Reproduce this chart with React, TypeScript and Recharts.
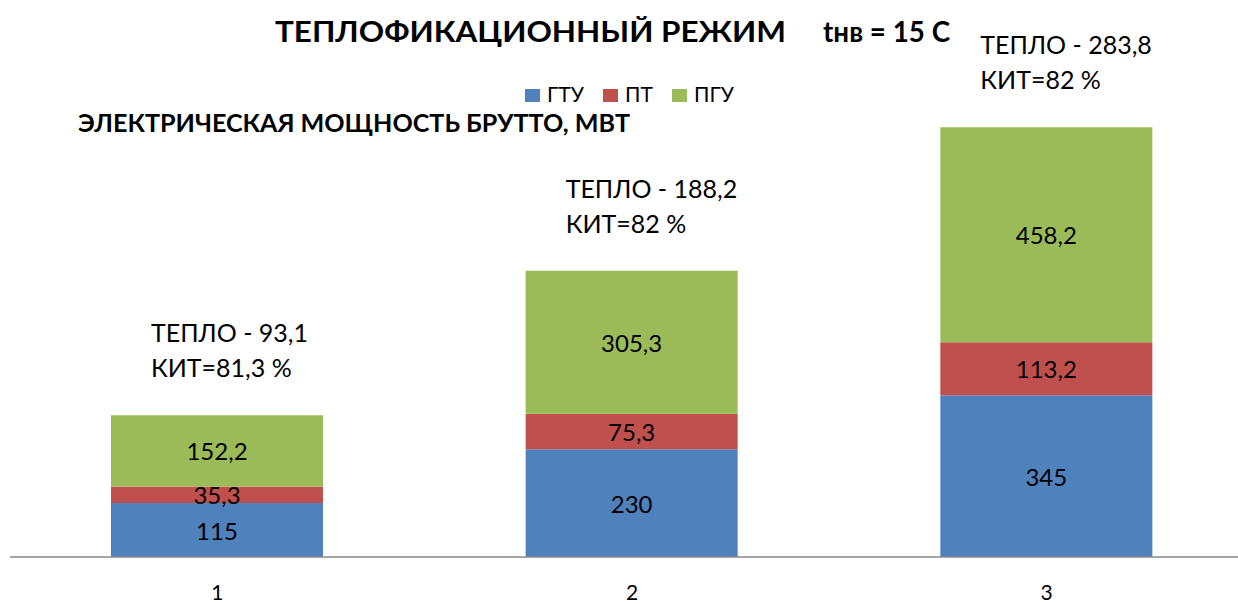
import React from 'react';
import { BarChart, Bar, XAxis, YAxis, LabelList } from 'recharts';

const categories = ['1', '2', '3'];
const gtu = [115, 230, 345];
const pt = [35.3, 75.3, 113.2];
const pgu = [152.2, 305.3, 458.2];
const heat = [93.1, 188.2, 283.8];
const kit = [81.3, 82, 82];

const seriesNames = ['ГТУ', 'ПТ', 'ПГУ'];
const colors = ['#4F81BD', '#C0504D', '#9BBB59'];

const data = categories.map((c, i) => ({ cat: c, gtu: gtu[i], pt: pt[i], pgu: pgu[i] }));

const FONT = 'Lato, "Open Sans", sans-serif';
const fmt = (v: number) => String(v).replace('.', ',');

const SegLabel = (props: any) => {
  const { x, y, width, height, value } = props;
  return (
    <text x={x + width / 2} y={y + height / 2} textAnchor="middle" dominantBaseline="central"
      fontFamily={FONT} fontSize={24} fill="#000">{fmt(value)}</text>
  );
};

const TopNote = (props: any) => {
  const { x, y, index } = props;
  return (
    <g>
      <text x={x + 40} y={y - 73} fontFamily={FONT} fontSize={25} fill="#000">{`ТЕПЛО - ${fmt(heat[index])}`}</text>
      <text x={x + 40} y={y - 38} fontFamily={FONT} fontSize={25} fill="#000">{`КИТ=${fmt(kit[index])} %`}</text>
    </g>
  );
};

const legendX = [525, 603, 672];

export default function App() {
  return (
    <div style={{ position: 'absolute', left: 0, top: 0, width: 1238, height: 604, overflow: 'hidden', background: '#fff' }}>
      <BarChart width={1254} height={604} data={data} margin={{ top: 90, right: 0, bottom: 0, left: 10 }} barSize={212}>
        <XAxis dataKey="cat" height={47} axisLine={{ stroke: '#888888', strokeWidth: 1.5 }} tickLine={false}
          tick={{ fontFamily: FONT, fontSize: 21, fill: '#000' }} tickMargin={22} />
        <YAxis hide domain={[0, 996]} />
        <Bar dataKey="gtu" name="ГТУ" stackId="a" fill={colors[0]} isAnimationActive={false}>
          <LabelList dataKey="gtu" content={<SegLabel />} />
        </Bar>
        <Bar dataKey="pt" name="ПТ" stackId="a" fill={colors[1]} isAnimationActive={false}>
          <LabelList dataKey="pt" content={<SegLabel />} />
        </Bar>
        <Bar dataKey="pgu" name="ПГУ" stackId="a" fill={colors[2]} isAnimationActive={false}>
          <LabelList dataKey="pgu" content={<SegLabel />} />
          <LabelList dataKey="pgu" content={<TopNote />} />
        </Bar>
      </BarChart>
      <svg style={{ position: 'absolute', left: 0, top: 0, pointerEvents: 'none' }} width={1238} height={604}>
        <text x={275} y={42} fontFamily={FONT} fontWeight="bold" fontSize={29} fill="#000"
          textLength={511} lengthAdjust="spacingAndGlyphs">ТЕПЛОФИКАЦИОННЫЙ РЕЖИМ</text>
        <text x={823} y={42} fontFamily={FONT} fontWeight="bold" fontSize={29} fill="#000"
          textLength={127} lengthAdjust="spacingAndGlyphs">tнв = 15 С</text>
        <text x={78} y={132} fontFamily={FONT} fontWeight="bold" fontSize={24} fill="#000"
          textLength={552} lengthAdjust="spacingAndGlyphs">ЭЛЕКТРИЧЕСКАЯ МОЩНОСТЬ БРУТТО, МВТ</text>
        {seriesNames.map((n, i) => (
          <g key={n}>
            <rect x={legendX[i]} y={89} width={15} height={13} fill={colors[i]} />
            <text x={legendX[i] + 22} y={102} fontFamily={FONT} fontSize={21} fill="#000">{n}</text>
          </g>
        ))}
      </svg>
    </div>
  );
}
